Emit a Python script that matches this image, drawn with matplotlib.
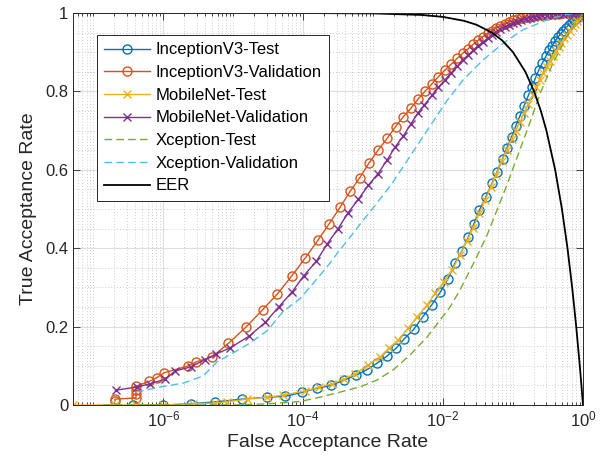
import numpy as np
import matplotlib
matplotlib.use("Agg")
import matplotlib.pyplot as plt
from matplotlib.ticker import FixedLocator, LogLocator, MultipleLocator, NullFormatter

plt.rcParams['font.family'] = ['Liberation Sans', 'DejaVu Sans']
plt.rcParams['mathtext.default'] = 'regular'

# values, FAR given as log10(FAR)
inc_test_logfar = [-6.43, -6.0, -5.61, -5.26, -4.87, -4.51, -4.26, -4.02, -3.80, -3.60,
                   -3.41, -3.24, -3.09, -2.94, -2.80, -2.67, -2.56, -2.42, -2.29, -2.16,
                   -2.04, -1.93, -1.83, -1.73, -1.64, -1.56, -1.48, -1.39, -1.30, -1.23,
                   -1.15, -1.09, -1.02, -0.96, -0.90, -0.84, -0.78, -0.73, -0.68, -0.63,
                   -0.58, -0.53, -0.48, -0.44, -0.40, -0.36, -0.32, -0.28, -0.24, -0.20,
                   -0.16, -0.13, -0.10, -0.07, -0.04, -0.02, 0.0]
inc_test_tar = [0.0, 0.0, 0.003, 0.008, 0.015, 0.02, 0.022, 0.032, 0.043, 0.05,
                0.064, 0.076, 0.09, 0.107, 0.125, 0.145, 0.168, 0.193, 0.225, 0.256,
                0.288, 0.322, 0.362, 0.393, 0.428, 0.462, 0.497, 0.530, 0.566, 0.594,
                0.628, 0.655, 0.684, 0.712, 0.738, 0.764, 0.790, 0.812, 0.834, 0.855,
                0.873, 0.890, 0.905, 0.917, 0.928, 0.938, 0.947, 0.955, 0.963, 0.970,
                0.977, 0.982, 0.986, 0.990, 0.994, 0.997, 1.0]

inc_val_logfar = [-6.69, -6.69, -6.39, -6.39, -6.39, -6.39, -6.20, -6.09, -5.99, -5.64,
                  -5.53, -5.30, -5.07, -4.81, -4.58, -4.37, -4.16, -3.97, -3.79, -3.63,
                  -3.47, -3.33, -3.19, -3.06, -2.93, -2.80, -2.68, -2.57, -2.46, -2.36,
                  -2.26, -2.16, -2.07, -1.97, -1.88, -1.80, -1.72, -1.64, -1.57, -1.50,
                  -1.43, -1.36, -1.30, -1.24, -1.18, -1.12, -1.06, -1.00, -0.94, -0.88,
                  -0.82, -0.76, -0.70, -0.64, -0.58, -0.52, -0.46, -0.40, -0.34, -0.28,
                  -0.22, -0.16, -0.11, -0.06, -0.02, 0.0]
inc_val_tar = [0.010, 0.015, 0.018, 0.028, 0.038, 0.048, 0.060, 0.070, 0.082, 0.100,
               0.110, 0.123, 0.157, 0.200, 0.243, 0.283, 0.330, 0.375, 0.420, 0.462,
               0.505, 0.545, 0.580, 0.617, 0.650, 0.680, 0.710, 0.735, 0.757, 0.780,
               0.800, 0.819, 0.837, 0.855, 0.870, 0.884, 0.897, 0.909, 0.920, 0.930,
               0.940, 0.948, 0.955, 0.962, 0.967, 0.972, 0.977, 0.981, 0.984, 0.987,
               0.989, 0.991, 0.993, 0.994, 0.995, 0.996, 0.997, 0.998, 0.998, 0.999,
               0.999, 1.0, 1.0, 1.0, 1.0, 1.0]

mob_test_logfar = [-7.29, -6.69, -6.39, -6.0, -5.57, -5.26, -5.09, -4.80, -4.51, -4.29,
                   -3.97, -3.78, -3.59, -3.42, -3.26, -3.07, -2.90, -2.77, -2.64, -2.50,
                   -2.37, -2.23, -2.11, -1.99, -1.87, -1.76, -1.66, -1.57, -1.48, -1.40,
                   -1.32, -1.24, -1.16, -1.09, -1.02, -0.96, -0.90, -0.84, -0.78, -0.72,
                   -0.67, -0.62, -0.57, -0.52, -0.47, -0.43, -0.39, -0.35, -0.31, -0.27,
                   -0.23, -0.19, -0.15, -0.12, -0.09, -0.06, -0.03, 0.0]
mob_test_tar = [0.0, 0.0, 0.0, 0.0, 0.003, 0.005, 0.008, 0.015, 0.02, 0.025,
                0.036, 0.045, 0.054, 0.066, 0.079, 0.102, 0.123, 0.146, 0.166, 0.196,
                0.225, 0.255, 0.285, 0.315, 0.345, 0.382, 0.418, 0.452, 0.490, 0.522,
                0.555, 0.588, 0.622, 0.650, 0.678, 0.700, 0.722, 0.745, 0.768, 0.790,
                0.810, 0.828, 0.846, 0.862, 0.878, 0.890, 0.902, 0.913, 0.924, 0.935,
                0.945, 0.955, 0.965, 0.972, 0.979, 0.986, 0.993, 1.0]

mob_val_logfar = [-6.67, -6.37, -6.19, -5.97, -5.83, -5.61, -5.41, -5.25, -5.05, -4.77,
                  -4.54, -4.35, -4.16, -3.99, -3.81, -3.66, -3.50, -3.36, -3.21, -3.07,
                  -2.93, -2.80, -2.69, -2.57, -2.46, -2.36, -2.27, -2.16, -2.07, -1.97,
                  -1.88, -1.80, -1.72, -1.64, -1.57, -1.50, -1.43, -1.36, -1.30, -1.24,
                  -1.18, -1.12, -1.06, -1.00, -0.94, -0.88, -0.82, -0.76, -0.70, -0.64,
                  -0.58, -0.52, -0.46, -0.40, -0.34, -0.28, -0.22, -0.16, -0.11, -0.06,
                  -0.02, 0.0]
mob_val_tar = [0.038, 0.046, 0.054, 0.066, 0.087, 0.097, 0.115, 0.130, 0.145, 0.176,
               0.211, 0.250, 0.288, 0.330, 0.367, 0.410, 0.450, 0.490, 0.525, 0.560,
               0.590, 0.625, 0.657, 0.686, 0.717, 0.745, 0.765, 0.790, 0.810, 0.830,
               0.848, 0.864, 0.879, 0.893, 0.905, 0.916, 0.926, 0.935, 0.943, 0.951,
               0.958, 0.964, 0.969, 0.974, 0.978, 0.982, 0.985, 0.988, 0.990, 0.992,
               0.994, 0.995, 0.996, 0.997, 0.998, 0.998, 0.999, 0.999, 1.0, 1.0,
               1.0, 1.0]

xce_test_logfar = [-6.86, -5.0, -4.5, -4.04, -3.76, -3.47, -3.19, -2.94, -2.71, -2.47,
                   -2.23, -2.04, -1.90, -1.76, -1.54, -1.37, -1.23, -1.09, -0.94, -0.80,
                   -0.61, -0.43, -0.23, -0.04, 0.0]
xce_test_tar = [0.0, 0.0, 0.003, 0.009, 0.02, 0.033, 0.046, 0.064, 0.09, 0.128,
                0.173, 0.217, 0.25, 0.293, 0.37, 0.434, 0.497, 0.56, 0.633, 0.70,
                0.796, 0.872, 0.94, 0.99, 1.0]

xce_val_logfar = [-6.39, -6.04, -5.71, -5.43, -5.23, -4.98, -4.76, -4.51, -4.29, -4.04,
                  -3.85, -3.66, -3.50, -3.33, -3.17, -3.0, -2.86, -2.73, -2.60, -2.47,
                  -2.21, -1.95, -1.71, -1.43, -1.14, -0.86, -0.52, -0.23, 0.0]
xce_val_tar = [0.033, 0.046, 0.056, 0.074, 0.11, 0.135, 0.158, 0.19, 0.238, 0.272,
               0.312, 0.352, 0.39, 0.428, 0.465, 0.503, 0.535, 0.565, 0.600, 0.635,
               0.705, 0.775, 0.83, 0.88, 0.923, 0.957, 0.982, 0.997, 1.0]

eer_far = [1e-4, 1e-3, 0.005, 0.01, 0.02, 0.03, 0.05, 0.07, 0.1, 0.15, 0.2, 0.25,
           0.3, 0.4, 0.5, 0.6, 0.7, 0.8, 0.9, 0.95, 1.0]
eer_tar = [0.9999, 0.999, 0.995, 0.99, 0.98, 0.97, 0.95, 0.93, 0.9, 0.85, 0.8, 0.75,
           0.7, 0.6, 0.5, 0.4, 0.3, 0.2, 0.1, 0.05, 0.0]

labels = ['InceptionV3-Test', 'InceptionV3-Validation', 'MobileNet-Test',
          'MobileNet-Validation', 'Xception-Test', 'Xception-Validation', 'EER']
xtick_vals = [1e-6, 1e-4, 1e-2, 1.0]
xtick_labels = ['$10^{-6}$', '$10^{-4}$', '$10^{-2}$', '$10^{0}$']
ytick_vals = [0, 0.2, 0.4, 0.6, 0.8, 1.0]
ytick_labels = ['0', '0.2', '0.4', '0.6', '0.8', '1']

fig = plt.figure(figsize=(6.06, 4.70), dpi=100)
ax = fig.add_axes([73 / 606, 65 / 470, 510 / 606, 392 / 470])

lw = 1.0
dash = (5.5, 3)
ax.plot(10.0 ** np.array(inc_test_logfar), inc_test_tar, '-o', color='#0072BD', lw=lw,
        ms=6.5, mfc='none', mew=1.0, label=labels[0])
ax.plot(10.0 ** np.array(inc_val_logfar), inc_val_tar, '-o', color='#D95319', lw=lw,
        ms=6.5, mfc='none', mew=1.0, label=labels[1])
ax.plot(10.0 ** np.array(mob_test_logfar), mob_test_tar, '-x', color='#EDB120', lw=lw,
        ms=5.5, mew=1.0, label=labels[2])
ax.plot(10.0 ** np.array(mob_val_logfar), mob_val_tar, '-x', color='#7E2F8E', lw=lw,
        ms=5.5, mew=1.0, label=labels[3])
ax.plot(10.0 ** np.array(xce_test_logfar), xce_test_tar, '--', color='#77AC30', lw=lw,
        dashes=dash, label=labels[4])
ax.plot(10.0 ** np.array(xce_val_logfar), xce_val_tar, '--', color='#4DBEEE', lw=lw,
        dashes=dash, label=labels[5])
ax.plot(eer_far, eer_tar, '-', color='black', lw=1.3, label=labels[6])

ax.set_xscale('log')
ax.set_xlim(10.0 ** min(mob_test_logfar), 1.0)
ax.set_ylim(0, 1)

ax.xaxis.set_major_locator(FixedLocator(xtick_vals))
ax.set_xticklabels(xtick_labels)
ax.xaxis.set_minor_locator(LogLocator(base=10, subs=np.arange(1, 10), numticks=100))
ax.xaxis.set_minor_formatter(NullFormatter())
ax.set_yticks(ytick_vals)
ax.set_yticklabels(ytick_labels)
ax.yaxis.set_minor_locator(MultipleLocator(0.05))

axcol = '#262626'
ax.tick_params(which='both', direction='in', top=True, right=True, colors=axcol,
               labelsize=12, width=0.6)
ax.tick_params(which='major', length=5)
ax.tick_params(which='minor', length=2.5)
ax.tick_params(axis='y', which='minor', length=0)
for s in ax.spines.values():
    s.set_color(axcol)
    s.set_linewidth(0.7)

ax.grid(which='major', color='#dedede', lw=0.8, ls='-')
ax.grid(which='minor', color='#bdbdbd', lw=0.6, ls=(0, (1, 2.5)))
ax.set_axisbelow(True)

ax.set_xlabel('False Acceptance Rate', fontsize=14, color=axcol, labelpad=3)
ax.set_ylabel('True Acceptance Rate', fontsize=14, color=axcol, labelpad=6)

leg = ax.legend(loc='upper left', bbox_to_anchor=(0.047, 0.944), borderaxespad=0,
                fontsize=12, handlelength=2.75, handletextpad=0.3, labelspacing=0.46,
                borderpad=0.45, fancybox=False, framealpha=1, edgecolor='#262626')
leg.get_frame().set_linewidth(0.7)

fig.savefig('out.png', dpi=100)
